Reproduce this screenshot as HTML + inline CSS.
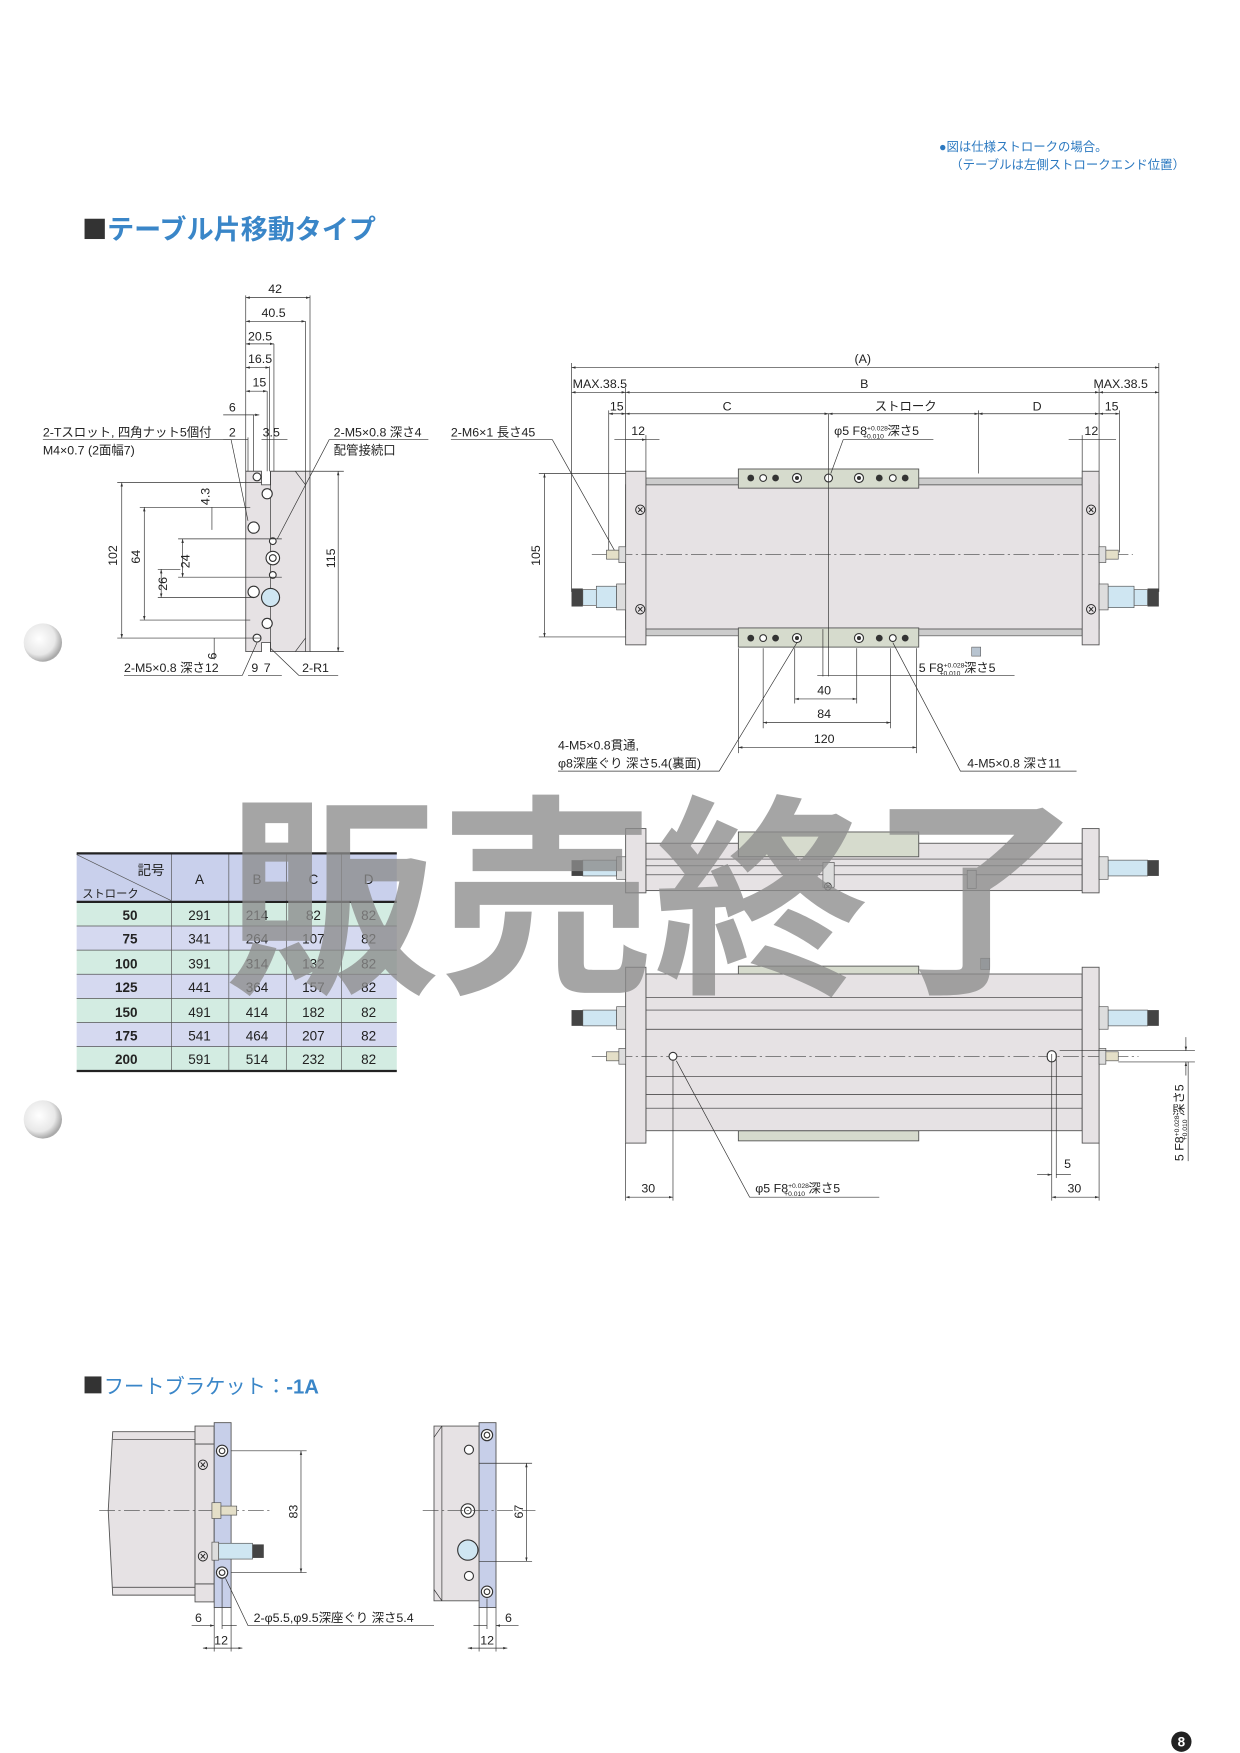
<!DOCTYPE html>
<html><head><meta charset="utf-8"><style>
html,body{margin:0;padding:0;background:#fff;}
svg{display:block;}
text{font-family:"Liberation Sans","Noto Sans CJK JP",sans-serif;fill:#222;}
.t{font-size:11px;}
.d{stroke:#333;stroke-width:0.6;fill:none;}
.b{fill:#e6e2e4;stroke:#555;stroke-width:0.8;}
.g{fill:#d6dbcd;stroke:#555;stroke-width:0.8;}
.bl{fill:#c7cfe9;stroke:#555;stroke-width:0.8;}
.c{stroke:#444;stroke-width:0.6;stroke-dasharray:14 3 2 3;fill:none;}
.h{fill:#fff;stroke:#333;stroke-width:1;}
.k{fill:#333;}
</style></head><body>
<svg width="1240" height="1753" viewBox="0 0 1100 1555" xmlns="http://www.w3.org/2000/svg">
<defs>
<marker id="a" viewBox="0 0 10 10" refX="10" refY="5" markerWidth="6" markerHeight="6" orient="auto-start-reverse"><path d="M0,2 L10,5 L0,8z" fill="#333"/></marker>
<radialGradient id="ph" cx="0.4" cy="0.4" r="0.6"><stop offset="0" stop-color="#fff"/><stop offset="0.7" stop-color="#e8e8e8"/><stop offset="1" stop-color="#aaa"/></radialGradient>
</defs>

<text x="833" y="134" style="font-size:11px;fill:#2a78c0">●図は仕様ストロークの場合。</text>
<text x="843" y="150" style="font-size:11px;fill:#2a78c0">（テーブルは左側ストロークエンド位置）</text>
<rect x="75" y="194" width="18" height="18" fill="#333"/>
<text x="95" y="212" style="font-size:24px;font-weight:bold;fill:#3a86c8">テーブル片移動タイプ</text>

<circle cx="38" cy="570" r="17" fill="url(#ph)"/>
<circle cx="38" cy="993" r="17" fill="url(#ph)"/>

<!-- side view -->
<g>
<path class="b" d="M218,418 L232,418 L232,430 L240,430 L240,418 L275,418 L275,578 L240,578 L240,570 L232,570 L232,578 L218,578 Z"/>
<line class="d" x1="240" y1="418" x2="240" y2="578"/>
<line class="d" x1="271" y1="418" x2="271" y2="578"/>
<path class="d" d="M262,418 L271,430 M262,578 L271,566"/>
<circle class="h" cx="228" cy="423" r="3.5"/><circle class="h" cx="237" cy="438" r="4.5"/>
<circle class="h" cx="225" cy="468" r="5"/><circle class="h" cx="242" cy="480" r="3"/>
<circle class="h" cx="242" cy="495" r="6"/><circle class="h" cx="242" cy="495" r="3"/>
<circle class="h" cx="242" cy="510" r="3"/><circle class="h" cx="225" cy="525" r="5"/>
<circle cx="240" cy="530" r="8" fill="#cfe6f2" stroke="#333"/>
<circle class="h" cx="237" cy="553" r="4.5"/><circle class="h" cx="228" cy="566" r="3.5"/>
<line class="d" x1="218" y1="262" x2="218" y2="418"/>
<line class="d" x1="275" y1="262" x2="275" y2="418"/>
<line class="d" x1="271" y1="285" x2="271" y2="418"/>
<line class="d" x1="243" y1="305" x2="243" y2="418"/>
<line class="d" x1="239" y1="325" x2="239" y2="418"/>
<line class="d" x1="237" y1="347" x2="237" y2="418"/>
<line class="d" x1="225" y1="368" x2="225" y2="418"/>
<line class="d" x1="220" y1="388" x2="220" y2="418"/>
<line class="d" x1="218" y1="264" x2="275" y2="264" marker-start="url(#a)" marker-end="url(#a)"/>
<line class="d" x1="218" y1="285" x2="271" y2="285" marker-start="url(#a)" marker-end="url(#a)"/>
<line class="d" x1="218" y1="305" x2="243" y2="305" marker-start="url(#a)" marker-end="url(#a)"/>
<line class="d" x1="218" y1="326" x2="239" y2="326" marker-start="url(#a)" marker-end="url(#a)"/>
<line class="d" x1="218" y1="347" x2="237" y2="347" marker-start="url(#a)" marker-end="url(#a)"/>
<line class="d" x1="198" y1="368" x2="230" y2="368" marker-end="url(#a)"/>
<line class="d" x1="198" y1="390" x2="220" y2="390"/>
<line class="d" x1="232" y1="390" x2="255" y2="390"/>
<text class="t" x="238" y="260">42</text><text class="t" x="232" y="281">40.5</text>
<text class="t" x="220" y="302">20.5</text><text class="t" x="220" y="322">16.5</text>
<text class="t" x="224" y="343">15</text><text class="t" x="203" y="365">6</text>
<text class="t" x="203" y="387">2</text><text class="t" x="233" y="387">3.5</text>
<line class="d" x1="104" y1="428" x2="232" y2="428"/><line class="d" x1="104" y1="566" x2="232" y2="566"/>
<line class="d" x1="108" y1="428" x2="108" y2="566" marker-start="url(#a)" marker-end="url(#a)"/>
<text class="t" transform="translate(104,502) rotate(-90)">102</text>
<line class="d" x1="124" y1="450" x2="222" y2="450"/><line class="d" x1="124" y1="550" x2="222" y2="550"/>
<line class="d" x1="128" y1="450" x2="128" y2="550" marker-start="url(#a)" marker-end="url(#a)"/>
<text class="t" transform="translate(124,500) rotate(-90)">64</text>
<line class="d" x1="140" y1="530" x2="225" y2="530"/><line class="d" x1="140" y1="505" x2="160" y2="505"/>
<line class="d" x1="143" y1="505" x2="143" y2="530" marker-start="url(#a)" marker-end="url(#a)"/>
<text class="t" transform="translate(148,524) rotate(-90)">26</text>
<line class="d" x1="158" y1="478" x2="250" y2="478"/><line class="d" x1="158" y1="512" x2="250" y2="512"/>
<line class="d" x1="162" y1="478" x2="162" y2="512" marker-start="url(#a)" marker-end="url(#a)"/>
<text class="t" transform="translate(168,504) rotate(-90)">24</text>
<line class="d" x1="188" y1="450" x2="188" y2="470"/>
<text class="t" transform="translate(186,448) rotate(-90)">4.3</text>
<line class="d" x1="190" y1="566" x2="190" y2="585"/>
<text class="t" transform="translate(192,585) rotate(-90)">6</text>
<line class="d" x1="275" y1="418" x2="305" y2="418"/><line class="d" x1="275" y1="578" x2="305" y2="578"/>
<line class="d" x1="300" y1="418" x2="300" y2="578" marker-start="url(#a)" marker-end="url(#a)"/>
<text class="t" transform="translate(297,504) rotate(-90)">115</text>
<text class="t" x="38" y="387">2-Tスロット, 四角ナット5個付</text>
<text class="t" x="38" y="403">M4×0.7 (2面幅7)</text>
<path class="d" d="M38,390 L205,390 L220,462"/>
<text class="t" x="296" y="387">2-M5×0.8 深さ4</text>
<text class="t" x="296" y="403">配管接続口</text>
<path class="d" d="M380,390 L292,390 L246,478"/>
<text class="t" x="110" y="596">2-M5×0.8 深さ12</text>
<path class="d" d="M110,599 L215,599 L228,570"/>
<text class="t" x="223" y="596">9</text><text class="t" x="234" y="596">7</text>
<text class="t" x="268" y="596">2-R1</text>
<path class="d" d="M300,599 L265,599 L240,575"/>
<line class="d" x1="220" y1="599" x2="250" y2="599"/>
</g>

<!-- main top view -->
<g>
<line class="d" x1="507" y1="322" x2="507" y2="525"/>
<line class="d" x1="1028" y1="322" x2="1028" y2="525"/>
<line class="d" x1="555" y1="344" x2="555" y2="418"/><line class="d" x1="975" y1="344" x2="975" y2="418"/>
<line class="d" x1="540" y1="364" x2="540" y2="490"/><line class="d" x1="993" y1="364" x2="993" y2="490"/>
<line class="d" x1="573" y1="386" x2="573" y2="418"/><line class="d" x1="960" y1="386" x2="960" y2="418"/>
<line class="d" x1="868" y1="364" x2="868" y2="420"/>
<line class="d" x1="507" y1="326" x2="1028" y2="326" marker-start="url(#a)" marker-end="url(#a)"/>
<text class="t" x="758" y="322">(A)</text>
<line class="d" x1="507" y1="348" x2="555" y2="348" marker-start="url(#a)" marker-end="url(#a)"/>
<line class="d" x1="555" y1="348" x2="975" y2="348" marker-start="url(#a)" marker-end="url(#a)"/>
<line class="d" x1="975" y1="348" x2="1028" y2="348" marker-start="url(#a)" marker-end="url(#a)"/>
<text class="t" x="508" y="344">MAX.38.5</text><text class="t" x="763" y="344">B</text><text class="t" x="970" y="344">MAX.38.5</text>
<line class="d" x1="540" y1="367" x2="555" y2="367" marker-start="url(#a)" marker-end="url(#a)"/>
<line class="d" x1="555" y1="367" x2="735" y2="367" marker-start="url(#a)" marker-end="url(#a)"/>
<line class="d" x1="735" y1="367" x2="868" y2="367" marker-start="url(#a)" marker-end="url(#a)"/>
<line class="d" x1="868" y1="367" x2="975" y2="367" marker-start="url(#a)" marker-end="url(#a)"/>
<line class="d" x1="975" y1="367" x2="993" y2="367" marker-start="url(#a)" marker-end="url(#a)"/>
<text class="t" x="541" y="364">15</text><text class="t" x="641" y="364">C</text><text class="t" x="776" y="364">ストローク</text>
<text class="t" x="916" y="364">D</text><text class="t" x="980" y="364">15</text>
<line class="d" x1="545" y1="390" x2="573" y2="390" marker-end="url(#a)"/>
<line class="d" x1="555" y1="390" x2="585" y2="390"/>
<line class="d" x1="948" y1="390" x2="990" y2="390"/>
<text class="t" x="560" y="386">12</text><text class="t" x="962" y="386">12</text>
<rect class="b" x="555" y="430" width="420" height="128"/>
<rect x="573" y="424" width="387" height="6" fill="#ccc" stroke="#555" stroke-width="0.6"/>
<rect x="573" y="558" width="387" height="6" fill="#ccc" stroke="#555" stroke-width="0.6"/>
<rect class="b" x="555" y="418" width="18" height="154"/>
<rect class="b" x="960" y="418" width="15" height="154"/>
<rect class="g" x="655" y="416" width="160" height="17"/>
<rect class="g" x="655" y="557" width="160" height="17"/>
<g class="k"><circle cx="666" cy="424" r="3"/><circle cx="688" cy="424" r="3"/><circle cx="780" cy="424" r="3"/><circle cx="803" cy="424" r="3"/>
<circle cx="666" cy="566" r="3"/><circle cx="688" cy="566" r="3"/><circle cx="780" cy="566" r="3"/><circle cx="803" cy="566" r="3"/></g>
<circle class="h" cx="677" cy="424" r="3"/><circle class="h" cx="792" cy="424" r="3"/><circle class="h" cx="677" cy="566" r="3"/><circle class="h" cx="792" cy="566" r="3"/>
<circle class="h" cx="707" cy="424" r="4"/><circle class="k" cx="707" cy="424" r="1.8"/><circle class="h" cx="762" cy="424" r="4"/><circle class="k" cx="762" cy="424" r="1.8"/>
<circle class="h" cx="707" cy="566" r="4"/><circle class="k" cx="707" cy="566" r="1.8"/><circle class="h" cx="762" cy="566" r="4"/><circle class="k" cx="762" cy="566" r="1.8"/>
<circle class="h" cx="735" cy="424" r="3.5"/>
<rect x="862" y="574" width="8" height="8" fill="#b8c4d0" stroke="#555" stroke-width="0.5"/>
<line class="c" x1="525" y1="492" x2="1005" y2="492"/>
<line class="d" x1="735" y1="367" x2="735" y2="600"/>
<line class="d" x1="730" y1="558" x2="730" y2="600"/>
<g font-size="12" fill="#333"><text x="562" y="457">⊗</text><text x="962" y="457">⊗</text><text x="562" y="545">⊗</text><text x="962" y="545">⊗</text></g>
<rect x="538" y="488" width="12" height="8" fill="#e4dfc8" stroke="#555" stroke-width="0.6"/><rect x="549" y="485" width="6" height="14" fill="#ddd" stroke="#555" stroke-width="0.6"/>
<rect x="980" y="488" width="12" height="8" fill="#e4dfc8" stroke="#555" stroke-width="0.6"/><rect x="975" y="485" width="6" height="14" fill="#ddd" stroke="#555" stroke-width="0.6"/>
<rect x="507" y="522" width="10" height="16" fill="#444"/><rect x="517" y="523" width="12" height="14" fill="#cfe6f2" stroke="#555" stroke-width="0.6"/><rect x="529" y="520" width="18" height="19" fill="#cfe6f2" stroke="#555" stroke-width="0.6"/><rect x="547" y="518" width="8" height="23" fill="#ddd" stroke="#555" stroke-width="0.6"/>
<rect x="1018" y="522" width="10" height="16" fill="#444"/><rect x="1006" y="523" width="12" height="14" fill="#cfe6f2" stroke="#555" stroke-width="0.6"/><rect x="983" y="520" width="23" height="19" fill="#cfe6f2" stroke="#555" stroke-width="0.6"/><rect x="975" y="518" width="8" height="23" fill="#ddd" stroke="#555" stroke-width="0.6"/>
<line class="d" x1="478" y1="420" x2="555" y2="420"/><line class="d" x1="478" y1="565" x2="555" y2="565"/>
<line class="d" x1="483" y1="420" x2="483" y2="565" marker-start="url(#a)" marker-end="url(#a)"/>
<text class="t" transform="translate(479,502) rotate(-90)">105</text>
<text class="t" x="400" y="387">2-M6×1 長さ45</text>
<path class="d" d="M400,390 L490,390 L545,488"/>
<text class="t" x="740" y="386">φ5 F8<tspan font-size="6" dy="-4">+0.028</tspan><tspan font-size="6" dx="-22" dy="7">+0.010</tspan><tspan dy="-3"> 深さ5</tspan></text>
<path class="d" d="M828,390 L748,390 L737,420"/>
<text class="t" x="815" y="596">5 F8<tspan font-size="6" dy="-4">+0.028</tspan><tspan font-size="6" dx="-22" dy="7">+0.010</tspan><tspan dy="-3"> 深さ5</tspan></text>
<line class="d" x1="725" y1="599" x2="900" y2="599"/>
<g class="d"><line x1="655" y1="575" x2="655" y2="668"/><line x1="677" y1="575" x2="677" y2="646"/><line x1="705" y1="575" x2="705" y2="624"/><line x1="760" y1="575" x2="760" y2="624"/><line x1="790" y1="575" x2="790" y2="646"/><line x1="813" y1="575" x2="813" y2="668"/></g>
<line class="d" x1="705" y1="620" x2="760" y2="620" marker-start="url(#a)" marker-end="url(#a)"/>
<line class="d" x1="677" y1="641" x2="790" y2="641" marker-start="url(#a)" marker-end="url(#a)"/>
<line class="d" x1="655" y1="663" x2="813" y2="663" marker-start="url(#a)" marker-end="url(#a)"/>
<text class="t" x="725" y="616">40</text><text class="t" x="725" y="637">84</text><text class="t" x="722" y="659">120</text>
<text class="t" x="495" y="665">4-M5×0.8貫通,</text>
<text class="t" x="495" y="681">φ8深座ぐり 深さ5.4(裏面)</text>
<path class="d" d="M495,684 L638,684 L707,570"/>
<text class="t" x="858" y="681">4-M5×0.8 深さ11</text>
<path class="d" d="M955,684 L852,684 L792,570"/>
</g>

<!-- table -->
<g>
<rect x="68" y="757" width="284" height="43" fill="#c9d0ec"/>
<rect x="68" y="800" width="284" height="21.4" fill="#d3ece2"/>
<rect x="68" y="821.4" width="284" height="21.4" fill="#d5d9f0"/>
<rect x="68" y="842.8" width="284" height="21.4" fill="#d3ece2"/>
<rect x="68" y="864.2" width="284" height="21.4" fill="#d5d9f0"/>
<rect x="68" y="885.6" width="284" height="21.4" fill="#d3ece2"/>
<rect x="68" y="907" width="284" height="21.4" fill="#d5d9f0"/>
<rect x="68" y="928.4" width="284" height="21.6" fill="#d3ece2"/>
<g stroke="#555" stroke-width="0.6"><line x1="68" y1="821.4" x2="352" y2="821.4"/><line x1="68" y1="842.8" x2="352" y2="842.8"/><line x1="68" y1="864.2" x2="352" y2="864.2"/><line x1="68" y1="885.6" x2="352" y2="885.6"/><line x1="68" y1="907" x2="352" y2="907"/><line x1="68" y1="928.4" x2="352" y2="928.4"/>
<line x1="152" y1="757" x2="152" y2="950"/><line x1="203" y1="757" x2="203" y2="950"/><line x1="254" y1="757" x2="254" y2="950"/><line x1="303" y1="757" x2="303" y2="950"/><line x1="68" y1="758" x2="152" y2="799"/></g>
<g stroke="#222" stroke-width="2"><line x1="68" y1="757" x2="352" y2="757"/><line x1="68" y1="800" x2="352" y2="800"/><line x1="68" y1="950" x2="352" y2="950"/></g>
<text x="122" y="776" style="font-size:12px">記号</text><text x="73" y="796" style="font-size:10px">ストローク</text>
<g style="font-size:12px" text-anchor="middle"><text x="177" y="784">A</text><text x="228" y="784">B</text><text x="278" y="784">C</text><text x="327" y="784">D</text></g>
<g style="font-size:12px;font-weight:bold" text-anchor="end"><text x="122" y="816">50</text><text x="122" y="837">75</text><text x="122" y="859">100</text><text x="122" y="880">125</text><text x="122" y="902">150</text><text x="122" y="923">175</text><text x="122" y="944">200</text></g>
<g style="font-size:12px" text-anchor="middle">
<text x="177" y="816">291</text><text x="228" y="816">214</text><text x="278" y="816">82</text><text x="327" y="816">82</text>
<text x="177" y="837">341</text><text x="228" y="837">264</text><text x="278" y="837">107</text><text x="327" y="837">82</text>
<text x="177" y="859">391</text><text x="228" y="859">314</text><text x="278" y="859">132</text><text x="327" y="859">82</text>
<text x="177" y="880">441</text><text x="228" y="880">364</text><text x="278" y="880">157</text><text x="327" y="880">82</text>
<text x="177" y="902">491</text><text x="228" y="902">414</text><text x="278" y="902">182</text><text x="327" y="902">82</text>
<text x="177" y="923">541</text><text x="228" y="923">464</text><text x="278" y="923">207</text><text x="327" y="923">82</text>
<text x="177" y="944">591</text><text x="228" y="944">514</text><text x="278" y="944">232</text><text x="327" y="944">82</text></g>
</g>

<!-- front view -->
<g>
<rect class="b" x="573" y="748" width="387" height="42"/>
<rect class="g" x="655" y="738" width="160" height="22"/>
<line class="d" x1="573" y1="762" x2="960" y2="762"/><line class="d" x1="573" y1="768" x2="960" y2="768"/><line class="d" x1="573" y1="776" x2="960" y2="776"/>
<rect class="b" x="555" y="735" width="18" height="57"/>
<rect class="b" x="960" y="735" width="15" height="57"/>
<rect x="730" y="765" width="10" height="22" fill="#ddd" stroke="#555" stroke-width="0.6"/>
<rect x="858" y="772" width="8" height="16" fill="#ddd" stroke="#555" stroke-width="0.6"/>
<text x="730" y="790" font-size="9">⊗</text>
<rect x="507" y="763" width="10" height="14" fill="#444"/><rect x="517" y="763" width="30" height="14" fill="#cfe6f2" stroke="#555" stroke-width="0.6"/><rect x="547" y="760" width="8" height="20" fill="#ddd" stroke="#555" stroke-width="0.6"/>
<rect x="1018" y="763" width="10" height="14" fill="#444"/><rect x="983" y="763" width="35" height="14" fill="#cfe6f2" stroke="#555" stroke-width="0.6"/><rect x="975" y="760" width="8" height="20" fill="#ddd" stroke="#555" stroke-width="0.6"/>
</g>

<!-- bottom view -->
<g>
<rect class="g" x="655" y="857" width="160" height="9"/>
<rect class="g" x="655" y="1003" width="160" height="9"/>
<rect class="b" x="573" y="864" width="387" height="139"/>
<g class="d"><line x1="573" y1="885" x2="960" y2="885"/><line x1="573" y1="896" x2="960" y2="896"/><line x1="573" y1="913" x2="960" y2="913"/><line x1="573" y1="955" x2="960" y2="955"/><line x1="573" y1="971" x2="960" y2="971"/><line x1="573" y1="983" x2="960" y2="983"/></g>
<rect class="b" x="555" y="858" width="18" height="156"/>
<rect class="b" x="960" y="858" width="15" height="156"/>
<rect x="870" y="850" width="8" height="10" fill="#b8c4d0" stroke="#555" stroke-width="0.5"/>
<line class="c" x1="525" y1="937" x2="1010" y2="937"/>
<circle class="h" cx="597" cy="937" r="3.5"/>
<rect x="929" y="932" width="8" height="10" rx="4" fill="#fff" stroke="#333"/>
<rect x="538" y="933" width="12" height="8" fill="#e4dfc8" stroke="#555" stroke-width="0.6"/><rect x="549" y="930" width="6" height="14" fill="#ddd" stroke="#555" stroke-width="0.6"/>
<rect x="980" y="933" width="12" height="8" fill="#e4dfc8" stroke="#555" stroke-width="0.6"/><rect x="975" y="930" width="6" height="14" fill="#ddd" stroke="#555" stroke-width="0.6"/>
<rect x="507" y="896" width="10" height="14" fill="#444"/><rect x="517" y="896" width="30" height="14" fill="#cfe6f2" stroke="#555" stroke-width="0.6"/><rect x="547" y="893" width="8" height="20" fill="#ddd" stroke="#555" stroke-width="0.6"/>
<rect x="1018" y="896" width="10" height="14" fill="#444"/><rect x="983" y="896" width="35" height="14" fill="#cfe6f2" stroke="#555" stroke-width="0.6"/><rect x="975" y="893" width="8" height="20" fill="#ddd" stroke="#555" stroke-width="0.6"/>
<g class="d"><line x1="555" y1="1014" x2="555" y2="1065"/><line x1="597" y1="940" x2="597" y2="1065"/><line x1="933" y1="935" x2="933" y2="1065"/><line x1="937" y1="935" x2="937" y2="1045"/><line x1="975" y1="1014" x2="975" y2="1065"/></g>
<line class="d" x1="555" y1="1062" x2="597" y2="1062" marker-start="url(#a)" marker-end="url(#a)"/>
<line class="d" x1="933" y1="1062" x2="975" y2="1062" marker-start="url(#a)" marker-end="url(#a)"/>
<line class="d" x1="920" y1="1042" x2="933" y2="1042" marker-end="url(#a)"/><line class="d" x1="937" y1="1042" x2="950" y2="1042"/>
<text class="t" x="569" y="1058">30</text><text class="t" x="947" y="1058">30</text><text class="t" x="944" y="1036">5</text>
<text class="t" x="670" y="1058">φ5 F8<tspan font-size="6" dy="-4">+0.028</tspan><tspan font-size="6" dx="-22" dy="7">+0.010</tspan><tspan dy="-3"> 深さ5</tspan></text>
<path class="d" d="M780,1062 L665,1062 L600,941"/>
<line class="d" x1="940" y1="932" x2="1060" y2="932"/><line class="d" x1="992" y1="942" x2="1060" y2="942"/>
<line class="d" x1="1052" y1="920" x2="1052" y2="932" marker-end="url(#a)"/><line class="d" x1="1052" y1="954" x2="1052" y2="942" marker-end="url(#a)"/>
<line class="d" x1="1054" y1="942" x2="1054" y2="1030"/>
<text class="t" transform="translate(1050,1030) rotate(-90)">5 F8<tspan font-size="6" dy="-4">+0.028</tspan><tspan font-size="6" dx="-22" dy="7">+0.010</tspan><tspan dy="-3"> 深さ5</tspan></text>
</g>

<!-- watermark -->
<text x="580" y="866" text-anchor="middle" style="font-family:'Noto Sans CJK JP',sans-serif;font-size:190px;font-weight:bold;fill:#8c8c8c;fill-opacity:0.78">販売終了</text>

<!-- foot bracket -->
<rect x="75" y="1221" width="15" height="15" fill="#333"/>
<text x="92" y="1236" style="font-size:18px;fill:#3a86c8">フートブラケット：<tspan font-weight="bold">-1A</tspan></text>
<g>
<path class="b" d="M100,1270 L173,1270 L173,1415 L100,1415 L96,1340 Z"/>
<line class="d" x1="100" y1="1277" x2="173" y2="1277"/><line class="d" x1="100" y1="1408" x2="173" y2="1408"/>
<rect class="b" x="173" y="1265" width="17" height="16"/><rect class="b" x="173" y="1405" width="17" height="16"/>
<rect class="b" x="173" y="1281" width="17" height="124"/>
<rect class="bl" x="190" y="1262" width="15" height="164"/>
<circle class="h" cx="197" cy="1287" r="5"/><circle class="h" cx="197" cy="1287" r="2.5"/>
<circle class="h" cx="197" cy="1395" r="5"/><circle class="h" cx="197" cy="1395" r="2.5"/>
<text x="174" y="1304" font-size="12">⊗</text><text x="174" y="1385" font-size="12">⊗</text>
<line class="c" x1="88" y1="1340" x2="240" y2="1340"/>
<rect x="188" y="1333" width="8" height="14" fill="#e4dfc8" stroke="#555" stroke-width="0.6"/><rect x="196" y="1336" width="14" height="8" fill="#e4dfc8" stroke="#555" stroke-width="0.6"/>
<rect x="188" y="1368" width="6" height="16" fill="#ddd" stroke="#555" stroke-width="0.6"/><rect x="194" y="1369" width="30" height="14" fill="#cfe6f2" stroke="#555" stroke-width="0.6"/><rect x="224" y="1370" width="10" height="12" fill="#444"/>
<line class="d" x1="205" y1="1287" x2="272" y2="1287"/><line class="d" x1="205" y1="1395" x2="272" y2="1395"/>
<line class="d" x1="267" y1="1287" x2="267" y2="1395" marker-start="url(#a)" marker-end="url(#a)"/>
<text class="t" transform="translate(264,1347) rotate(-90)">83</text>
<g class="d"><line x1="190" y1="1426" x2="190" y2="1465"/><line x1="197" y1="1400" x2="197" y2="1445"/><line x1="205" y1="1426" x2="205" y2="1465"/></g>
<line class="d" x1="170" y1="1442" x2="190" y2="1442" marker-end="url(#a)"/><line class="d" x1="197" y1="1442" x2="210" y2="1442"/>
<line class="d" x1="180" y1="1462" x2="215" y2="1462" marker-start="url(#a)" marker-end="url(#a)"/>
<text class="t" x="173" y="1439">6</text><text class="t" x="190" y="1459">12</text>
<text class="t" x="225" y="1439">2-φ5.5,φ9.5深座ぐり 深さ5.4</text>
<path class="d" d="M385,1442 L220,1442 L200,1400"/>
</g>
<g>
<path class="b" d="M385,1265 L425,1265 L425,1420 L385,1420 Z"/>
<path class="d" d="M385,1275 L392,1265 M385,1410 L392,1420 M392,1265 L392,1420"/>
<rect class="bl" x="425" y="1262" width="15" height="164"/>
<circle class="h" cx="432" cy="1273" r="5"/><circle class="h" cx="432" cy="1273" r="2.5"/>
<circle class="h" cx="432" cy="1412" r="5"/><circle class="h" cx="432" cy="1412" r="2.5"/>
<circle class="h" cx="416" cy="1286" r="4"/><circle class="h" cx="416" cy="1398" r="4"/>
<circle class="h" cx="415" cy="1340" r="6"/><circle class="h" cx="415" cy="1340" r="3"/>
<circle cx="415" cy="1375" r="9" fill="#cfe6f2" stroke="#333"/>
<line class="c" x1="375" y1="1340" x2="475" y2="1340"/>
<line class="d" x1="425" y1="1298" x2="472" y2="1298"/><line class="d" x1="425" y1="1385" x2="472" y2="1385"/>
<line class="d" x1="467" y1="1298" x2="467" y2="1385" marker-start="url(#a)" marker-end="url(#a)"/>
<text class="t" transform="translate(464,1347) rotate(-90)">67</text>
<g class="d"><line x1="425" y1="1426" x2="425" y2="1465"/><line x1="432" y1="1418" x2="432" y2="1445"/><line x1="440" y1="1426" x2="440" y2="1465"/></g>
<line class="d" x1="420" y1="1442" x2="432" y2="1442"/><line class="d" x1="460" y1="1442" x2="440" y2="1442" marker-end="url(#a)"/>
<line class="d" x1="415" y1="1462" x2="450" y2="1462" marker-start="url(#a)" marker-end="url(#a)"/>
<text class="t" x="448" y="1439">6</text><text class="t" x="426" y="1459">12</text>
</g>

<circle cx="1048" cy="1545" r="9" fill="#222"/>
<text x="1048" y="1549.5" text-anchor="middle" style="font-size:12px;font-weight:bold;fill:#fff">8</text>
</svg>
</body></html>
